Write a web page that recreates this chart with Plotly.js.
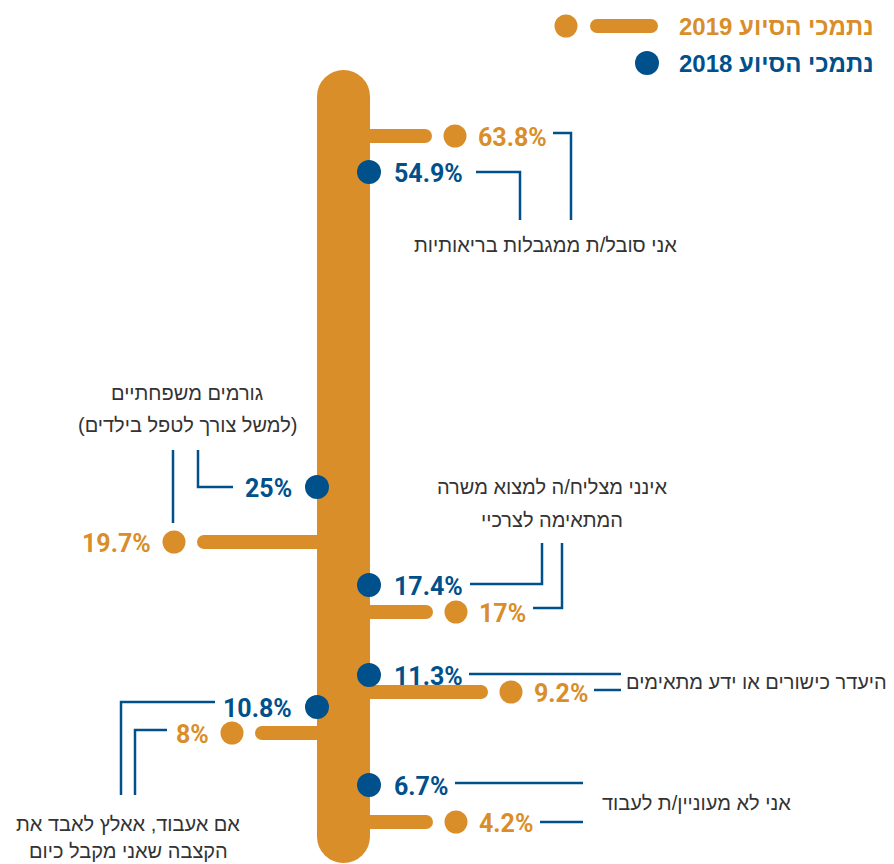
<!DOCTYPE html>
<html>
<head>
<meta charset="utf-8">
<script src="https://cdn.plot.ly/plotly-3.0.1.min.js"></script>
<style>
  html, body { margin: 0; padding: 0; background: #ffffff; }
  #chart { width: 894px; height: 864px; }
</style>
</head>
<body>
<div id="chart"></div>
<script>
// ---------- data ----------
const categories = [
  'אני סובל/ת ממגבלות בריאותיות',
  'גורמים משפחתיים<br>(למשל צורך לטפל בילדים)',
  'אינני מצליח/ה למצוא משרה<br>המתאימה לצרכיי',
  'היעדר כישורים או ידע מתאימים',
  'אם אעבוד, אאלץ לאבד את<br>הקצבה שאני מקבל כיום',
  'אני לא מעוניין/ת לעבוד'
];
const values2019 = [63.8, 19.7, 17, 9.2, 8, 4.2];
const values2018 = [54.9, 25, 17.4, 11.3, 10.8, 6.7];
const seriesNames = ['נתמכי הסיוע 2019', 'נתמכי הסיוע 2018'];

// ---------- layout (positions / styles) ----------
const ORANGE = '#D98E29';
const BLUE = '#00508B';
const GRAY = '#333333';
const HEB_FONT = 'Liberation Sans, DejaVu Sans, sans-serif';
const NUM_FONT = 'Roboto, Liberation Sans, sans-serif';
const LEG_FONT = 'Liberation Sans, DejaVu Sans, sans-serif';

const trunk = {x0: 317, x1: 370, top: 70, bottom: 863};
const side2019 = [1, -1, 1, 1, -1, 1];
const side2018 = [1, -1, 1, 1, -1, 1];
const row2019 = [136, 542, 612, 692, 733, 822];
const row2018 = [172, 487, 585, 675, 707, 785];
const reach2019 = [62, 120, 63, 118, 62, 63];
const branchW = 14;
const dotGap = 23;
const labelGap = 21;

const connectors2018 = [
  [[476,172],[520,172],[520,220]],
  [[233,487],[198,487],[198,450]],
  [[470,584],[542,584],[542,543]],
  [[469,674],[621,674]],
  [[215,702],[121,702],[121,795]],
  [[455,783],[583,783]]
];
const connectors2019 = [
  [[553,133],[571,133],[571,220]],
  [[173,523],[173,450]],
  [[533,608],[562,608],[562,543]],
  [[594,690],[621,690]],
  [[167,730],[135,730],[135,795]],
  [[540,822],[583,822]]
];
// category label: [x, firstLineY, xanchor, lineStep]
const catPos = [
  [545, 245, 'center', 0],
  [187, 393, 'center', 32],
  [552, 487, 'center', 33],
  [889, 682, 'right', 0],
  [128, 824, 'center', 27],
  [600, 803, 'left', 0]
];

const RLM = '\u200F';
const shapes = [];
const annotations = [];

// trunk
const tr = (trunk.x1 - trunk.x0) / 2;
const tcx = (trunk.x0 + trunk.x1) / 2;
shapes.push({type: 'rect', xref: 'x', yref: 'y', x0: trunk.x0, x1: trunk.x1, y0: trunk.top + tr, y1: trunk.bottom - tr, fillcolor: ORANGE, line: {width: 0}, layer: 'below'});
shapes.push({type: 'circle', xref: 'x', yref: 'y', x0: tcx - tr, x1: tcx + tr, y0: trunk.top, y1: trunk.top + 2 * tr, fillcolor: ORANGE, line: {width: 0}, layer: 'below'});
shapes.push({type: 'circle', xref: 'x', yref: 'y', x0: tcx - tr, x1: tcx + tr, y0: trunk.bottom - 2 * tr, y1: trunk.bottom, fillcolor: ORANGE, line: {width: 0}, layer: 'below'});

// branches
const dot19x = [], dot18x = [];
values2019.forEach((v, i) => {
  const s = side2019[i];
  const edge = s > 0 ? trunk.x1 : trunk.x0;
  const end = edge + s * reach2019[i];
  const r = branchW / 2;
  const capC = end - s * r;
  shapes.push({type: 'rect', xref: 'x', yref: 'y', x0: edge - s * 2, x1: capC, y0: row2019[i] - r, y1: row2019[i] + r, fillcolor: ORANGE, line: {width: 0}, layer: 'below'});
  shapes.push({type: 'circle', xref: 'x', yref: 'y', x0: capC - r, x1: capC + r, y0: row2019[i] - r, y1: row2019[i] + r, fillcolor: ORANGE, line: {width: 0}, layer: 'below'});
  const dx = end + s * dotGap;
  dot19x.push(dx);
  annotations.push({xref: 'x', yref: 'y', x: dx + s * labelGap, y: row2019[i] + 1, text: v + '%', showarrow: false,
    xanchor: s > 0 ? 'left' : 'right', yanchor: 'middle', font: {family: NUM_FONT, size: 25, color: ORANGE, weight: 'bold'}});
});
values2018.forEach((v, i) => {
  const s = side2018[i];
  const dx = s > 0 ? trunk.x1 - 1 : trunk.x0;
  dot18x.push(dx);
  annotations.push({xref: 'x', yref: 'y', x: dx + s * 23, y: row2018[i] + 1, text: v + '%', showarrow: false,
    xanchor: s > 0 ? 'left' : 'right', yanchor: 'middle', font: {family: NUM_FONT, size: 25, color: BLUE, weight: 'bold'}});
});

// connectors
[connectors2018, connectors2019].forEach(set => set.forEach(pts => {
  const d = pts.map((p, k) => (k ? 'L' : 'M') + p[0] + ',' + p[1]).join(' ');
  shapes.push({type: 'path', xref: 'x', yref: 'y', path: d, line: {color: BLUE, width: 2.5}});
}));

// category labels
categories.forEach((c, i) => {
  const [x, y, anchor, step] = catPos[i];
  c.split('<br>').forEach((line, k) => {
    annotations.push({xref: 'x', yref: 'y', x: x, y: y + k * step, text: RLM + line + RLM, showarrow: false,
      xanchor: anchor, yanchor: 'middle', font: {family: HEB_FONT, size: 20, color: GRAY}});
  });
});

// legend (custom)
annotations.push({xref: 'x', yref: 'y', x: 876, y: 26, text: RLM + seriesNames[0] + RLM, showarrow: false, xanchor: 'right', yanchor: 'middle',
  font: {family: LEG_FONT, size: 24, color: ORANGE, weight: 'bold'}});
annotations.push({xref: 'x', yref: 'y', x: 876, y: 63, text: RLM + seriesNames[1] + RLM, showarrow: false, xanchor: 'right', yanchor: 'middle',
  font: {family: LEG_FONT, size: 24, color: BLUE, weight: 'bold'}});
shapes.push({type: 'rect', xref: 'x', yref: 'y', x0: 597, x1: 651, y0: 19, y1: 33, fillcolor: ORANGE, line: {width: 0}});
shapes.push({type: 'circle', xref: 'x', yref: 'y', x0: 590, x1: 604, y0: 19, y1: 33, fillcolor: ORANGE, line: {width: 0}});
shapes.push({type: 'circle', xref: 'x', yref: 'y', x0: 644, x1: 658, y0: 19, y1: 33, fillcolor: ORANGE, line: {width: 0}});

const traces = [
  {type: 'scatter', mode: 'markers', name: seriesNames[0], x: dot19x.concat([566]), y: row2019.concat([26]),
   marker: {color: ORANGE, size: 23, line: {width: 0}}, hoverinfo: 'skip', showlegend: false},
  {type: 'scatter', mode: 'markers', name: seriesNames[1], x: dot18x.concat([647]), y: row2018.concat([63]),
   marker: {color: BLUE, size: 24, line: {width: 0}}, hoverinfo: 'skip', showlegend: false}
];

const layout = {
  width: 894, height: 864,
  margin: {l: 0, r: 0, t: 0, b: 0},
  paper_bgcolor: '#ffffff', plot_bgcolor: '#ffffff',
  xaxis: {range: [0, 894], visible: false, fixedrange: true},
  yaxis: {range: [864, 0], visible: false, fixedrange: true},
  showlegend: false,
  shapes: shapes,
  annotations: annotations
};

Plotly.newPlot('chart', traces, layout, {displayModeBar: false, staticPlot: true});
</script>
</body>
</html>
